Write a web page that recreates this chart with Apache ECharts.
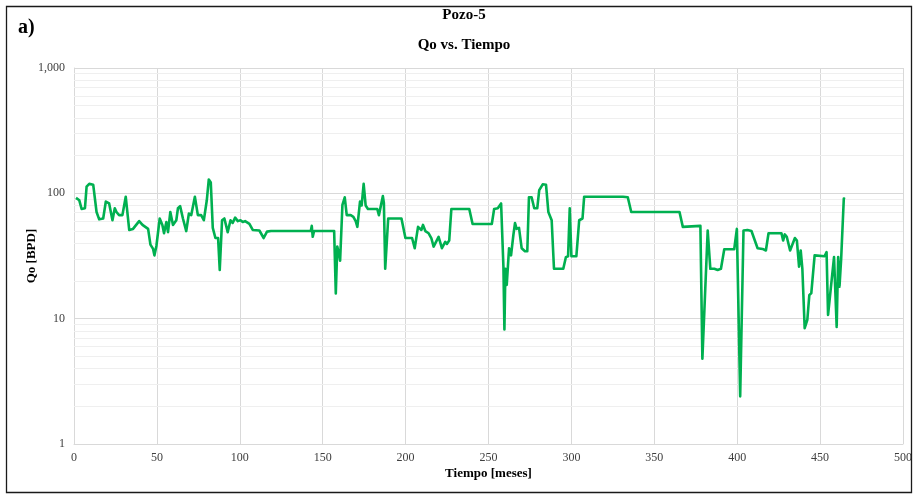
<!DOCTYPE html>
<html>
<head>
<meta charset="utf-8">
<script src="https://cdn.jsdelivr.net/npm/echarts@6/dist/echarts.min.js"></script>
<style>
html,body{margin:0;padding:0;background:#fff;}
#c{width:915px;height:495px;}
</style>
</head>
<body>
<div id="c"></div>
<script>
const titleLines = ["Pozo-5", "Qo vs. Tiempo"];
const panelLabel = "a)";
const xName = "Tiempo [meses]";
const yName = "Qo [BPD]";
const xTicks = [0, 50, 100, 150, 200, 250, 300, 350, 400, 450, 500];
const yTicks = [1, 10, 100, 1000];
const minorGridValues = [2,3,4,5,6,7,8,9,20,30,40,50,60,70,80,90,200,300,400,500,600,700,800,900];

const tiempo = [
1.2,3.2,4.6,6.6,7.6,9.2,11.6,13.6,15.2,17.6,19.2,21.2,23.2,24.6,25.6,27.2,29.2,31.2,33.3,35.6,
39.3,41.3,44.7,46.1,47.7,48.5,49.7,51.7,53.3,54.3,55.7,56.7,58.1,59.7,61.7,62.7,64,65.7,67.7,69.3,
70.7,72.9,74.7,76.7,78.3,80.1,81.3,82.5,83.7,85.3,86.9,87.9,89.3,90.7,92.7,94.4,95.7,97.2,98.8,100.4,
101.8,103.2,104.4,105.8,107.8,111.8,114.4,116.4,118.8,123,124,125,142.8,143.4,144,144.8,156.9,157.9,158.8,159.8,
160.5,161.9,163.3,164.5,166.9,168.5,169.9,170.9,172.5,173.5,174.7,175.9,177.3,182.9,183.9,186.3,186.9,187.7,189.5,197.5,
198.3,199.9,203.9,205.5,207.5,209.5,210.5,211.9,213.9,215.5,216.9,219.9,221.9,223.9,224.9,226.3,227.6,238.4,240.4,252,
253.4,255.6,257.6,259,259.6,260.2,261,262.4,263.6,265,266,267,268.4,270,272,273.4,274.4,276,277.6,279.4,
280.6,282.7,284.7,286.1,288.1,289.5,295.1,296.7,298,299,300,303,304.7,306.7,307.7,331.1,332.1,334,335,336.1,
365.2,367.2,377.8,379,382.2,383.8,386.2,388.2,390.2,392.2,398.2,399.8,401.8,403.8,406.2,408.6,412.3,415.3,417.3,418.9,
426.7,427.7,428.7,429.9,430.7,431.9,434.8,436,437.3,438.3,439.3,440.7,442.3,443.5,444.7,446.7,452.7,453.9,454.8,458.4,
460,460.9,461.7,462.7,464.3,465
];
const qo = [
92,88,75,76,113,119,117,71,62,63,86,83,61,76,71,67,67,94,51,52,
60,56,52,39,36,32,38,63,56,48,59,49,71,56,61,76,79,63,50,69,
67,94,67,67,61,88,129,122,53,44,44,24.5,61,63,49,61,58,64,60,61,
59,60,60,57,51,50.5,44,49.5,50,50,48.5,50,50,55,45,50,50,15.9,37.6,33,
29,81,93,67,67,65,60,54,86,80,119,80,75,75,67,95,84,25,63,63,
65,44,44,36.5,54,51,56,50,48,44,37.6,45,36.5,41,39.5,42,75,75,57,57,
75,76,83,26,8.2,25,18.6,36.5,32,46.5,58,52,53,36.5,34.5,34.5,93,93,76,76,
106,118,117,71,61,25,25,31,31.5,76,31.5,31.5,61,63,94,94,95,93,94,71,
71,54,55,4.8,50.5,25,25,24.5,25,35.8,35.8,52,2.4,50.5,51,50,36.5,36,35,48,
48,42,47,45,46,35,44,42,26,35,25,8.4,9.8,15.4,16,32,31.5,34,10.7,31,
8.6,31,18,30,91,90
];

const seriesData = tiempo.map((t, i) => [t, qo[i]]);
const serif = '"Liberation Serif","Times New Roman",serif';

const chart = echarts.init(document.getElementById('c'));
chart.setOption({
  animation: false,
  backgroundColor: '#fff',
  grid: { left: 74, right: 11.5, top: 68, bottom: 51, containLabel: false },
  graphic: [
    { type: 'rect', shape: { x: 6.5, y: 6.5, width: 905, height: 486 }, style: { fill: 'none', stroke: '#1a1a1a', lineWidth: 1.3 }, silent: true, z: 100 },
    { type: 'text', x: 18, y: 18, style: { text: panelLabel, font: 'bold 20px ' + serif, fill: '#000' } },
    { type: 'text', x: 464, y: 8, style: { text: titleLines[0], font: 'bold 15px ' + serif, fill: '#000', textAlign: 'center' } },
    { type: 'text', x: 464, y: 38, style: { text: titleLines[1], font: 'bold 15px ' + serif, fill: '#000', textAlign: 'center' } }
  ],
  xAxis: {
    type: 'value', min: xTicks[0], max: xTicks[xTicks.length - 1], interval: xTicks[1] - xTicks[0],
    name: xName, nameLocation: 'middle', nameGap: 23, nameMoveOverlap: false,
    nameTextStyle: { fontFamily: serif, fontWeight: 'bold', fontSize: 13, color: '#000' },
    axisLine: { show: true, lineStyle: { color: '#d9d9d9', width: 1 } },
    axisTick: { show: false },
    axisLabel: { fontFamily: serif, fontSize: 12, color: '#404040', margin: 8 },
    splitLine: { show: true, lineStyle: { color: '#d9d9d9', width: 1 } }
  },
  yAxis: {
    type: 'log', logBase: 10, min: yTicks[0], max: yTicks[yTicks.length - 1],
    name: yName, nameLocation: 'middle', nameGap: 36, nameMoveOverlap: false,
    nameTextStyle: { fontFamily: serif, fontWeight: 'bold', fontSize: 13, color: '#000' },
    axisLine: { show: true, lineStyle: { color: '#d9d9d9', width: 1 } },
    axisTick: { show: false },
    axisLabel: {
      fontFamily: serif, fontSize: 12, color: '#404040', margin: 9,
      formatter: v => Number(v).toLocaleString('en-US')
    },
    splitLine: { show: true, lineStyle: { color: '#d9d9d9', width: 1 } }
  },
  series: [{
    type: 'line',
    data: seriesData,
    showSymbol: false,
    symbol: 'none',
    lineStyle: { color: '#00b050', width: 2.6, join: 'round' },
    itemStyle: { color: '#00b050' },
    z: 10,
    markLine: {
      silent: true, symbol: 'none', label: { show: false },
      lineStyle: { color: '#efefef', width: 1, type: 'solid' },
      animation: false,
      z: 1,
      data: minorGridValues.map(v => ({ yAxis: v }))
    }
  }]
});
</script>
</body>
</html>
